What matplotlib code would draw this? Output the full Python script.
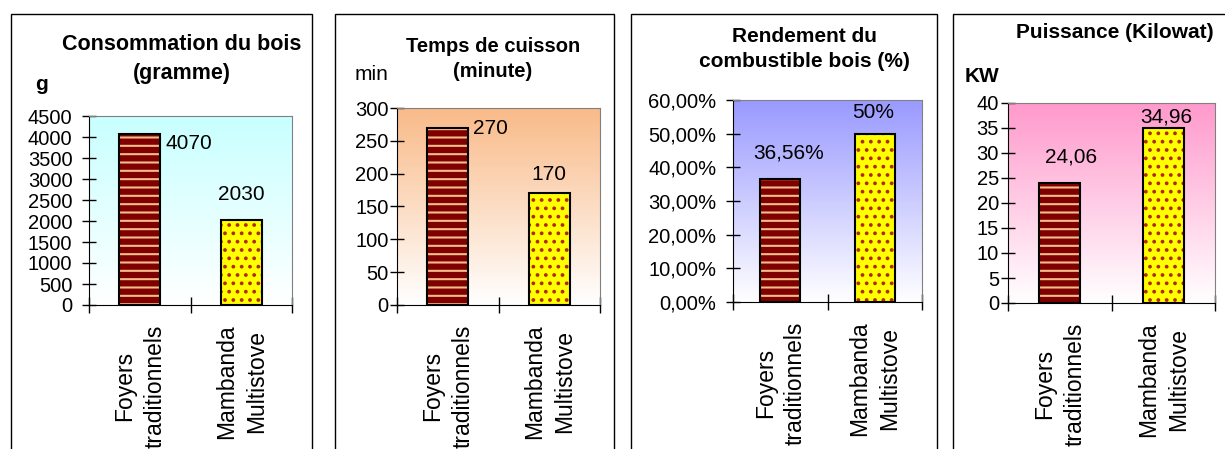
import numpy as np
import matplotlib
matplotlib.use("Agg")
import matplotlib.pyplot as plt
import matplotlib.colors as mcolors
from matplotlib.patches import Rectangle
from matplotlib.ticker import FuncFormatter

plt.rcParams['font.family'] = ['Liberation Sans', 'DejaVu Sans']
plt.rcParams['hatch.linewidth'] = 1.5

# data
categories = ["Foyers\ntraditionnels", "Mambanda\nMultistove"]

conso_bois = [4070, 2030]
conso_labels = ["4070", "2030"]
temps_cuisson = [270, 170]
temps_labels = ["270", "170"]
rendement = [0.3656, 0.50]
rendement_labels = ["36,56%", "50%"]
puissance = [24.06, 34.96]
puissance_labels = ["24,06", "34,96"]

titles = ["Consommation du bois\n(gramme)", "Temps de cuisson\n(minute)",
          "Rendement du\ncombustible bois (%)", "Puissance (Kilowat)"]
units = ["g", "min", "", "KW"]
y_max = [4500, 300, 0.6, 40]
y_step = [500, 50, 0.1, 5]

W, H = 1225, 449
fig = plt.figure(figsize=(W / 100, H / 100), dpi=100)


def box(x0, x1, y0, y1):
    return [x0 / W, 1 - y1 / H, (x1 - x0) / W, (y1 - y0) / H]


# layout of each panel (pixels)
panels = [
    dict(values=conso_bois, labels=conso_labels, axes=(89, 292, 116, 305), frame=(11, 312),
         title_xy=(182, 59), title_size=15.5, unit_xy=(41, 85), unit_bold=True, color='#c8ffff',
         pad=7, width=0.4, offs=[(5, -9, 'left'), (0, 25, 'center')]),
    dict(values=temps_cuisson, labels=temps_labels, axes=(397, 600, 108, 305), frame=(335, 614),
         title_xy=(493, 59), title_size=14.5, unit_xy=(371, 75), unit_bold=False, color='#f9ba88',
         pad=1, width=0.4, offs=[(5, -1, 'left'), (0, 19, 'center')]),
    dict(values=rendement, labels=rendement_labels, axes=(733, 922, 100, 302), frame=(631, 937),
         title_xy=(804, 49), title_size=15, unit_xy=None, unit_bold=False, color='#9999ff',
         pad=7, width=0.42, offs=[(8, 26, 'center'), (-2, 21, 'center')]),
    dict(values=puissance, labels=puissance_labels, axes=(1008, 1215, 103, 303), frame=(953, 1245),
         title_xy=(1115, 33), title_size=15, unit_xy=(982, 77), unit_bold=True, color='#ff99cc',
         pad=1.5, width=0.4, offs=[(11, 26, 'center'), (3, 11, 'center')]),
]

grad = np.linspace(0, 1, 256)[:, None, None]

for i, p in enumerate(panels):
    ax = fig.add_axes(box(*p['axes']))
    top = np.array(mcolors.to_rgb(p['color']))
    img = (1 - grad) * np.ones(3) + grad * top
    ax.imshow(img, extent=[0, 1, 0, 1], transform=ax.transAxes, aspect='auto',
              origin='lower', zorder=0)

    x = np.arange(len(categories))
    v = p['values']
    w = p['width']
    ax.bar(x[0], v[0], w, color='#800000', edgecolor='#f2bd8a', hatch='--', linewidth=0, zorder=2)
    ax.bar(x[1], v[1], w, color='#ffff00', edgecolor='#b02a00', hatch='..', linewidth=0, zorder=2)
    ax.bar(x, v, w, color='none', edgecolor='black', linewidth=1.5, zorder=3)

    for j, (val, lab) in enumerate(zip(v, p['labels'])):
        dx, dy, ha = p['offs'][j]
        xa = x[j] + w / 2 if ha == 'left' else x[j]
        ax.annotate(lab, xy=(xa, val), xytext=(dx, dy), textcoords='offset pixels',
                    ha=ha, va='center', fontsize=15, zorder=4)

    ax.set_xlim(-0.5, 1.5)
    ax.set_ylim(0, y_max[i])
    ax.set_yticks(np.arange(0, y_max[i] + y_step[i] / 2, y_step[i]))
    if i == 2:
        ax.yaxis.set_major_formatter(FuncFormatter(lambda t, pos: f"{t * 100:.2f}%".replace('.', ',')))
    ax.set_xticks([-0.5, 0.5, 1.5], ['', '', ''])
    ax.set_xticks(x, categories, minor=True)
    ax.tick_params(axis='x', which='major', direction='inout', length=11, width=1)
    ax.tick_params(axis='x', which='minor', length=0, pad=14, labelsize=16.5, labelrotation=90)
    for t in ax.get_xticklabels(minor=True):
        t.set_multialignment('center')
        t.set_linespacing(1.4)
    ax.tick_params(axis='y', direction='inout', length=10, width=1, labelsize=14.5, pad=p['pad'])

    for s in ['top', 'right']:
        ax.spines[s].set_color('#808080')
    for s in ['left', 'bottom']:
        ax.spines[s].set_color('black')

    # outer chart frame
    fx0, fx1 = p['frame']
    fig.add_artist(Rectangle((fx0 / W, -0.1), (fx1 - fx0) / W, 1 - 14 / H + 0.1,
                             transform=fig.transFigure, fill=False, ec='black', lw=1))

    tx, ty = p['title_xy']
    fig.text(tx / W, 1 - ty / H, titles[i], ha='center', va='center', fontsize=p['title_size'],
             fontweight='bold', linespacing=1.45)
    if p['unit_xy'] is not None:
        ux, uy = p['unit_xy']
        fig.text(ux / W, 1 - uy / H, units[i], ha='center', va='center', fontsize=15,
                 fontweight='bold' if p['unit_bold'] else 'normal')

fig.savefig("out.png", dpi=100)
